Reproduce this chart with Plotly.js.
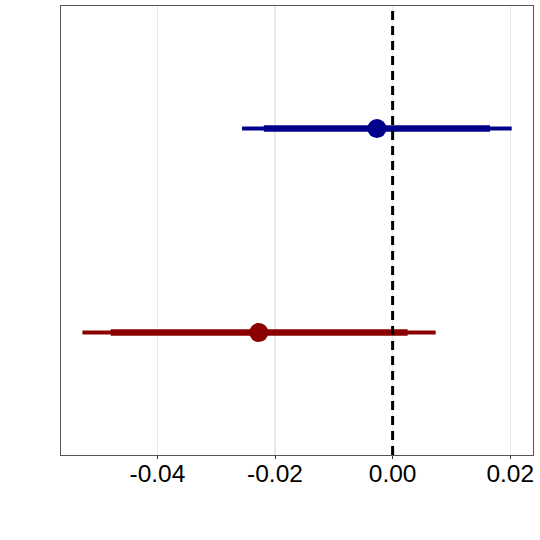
<!DOCTYPE html>
<html>
<head>
<meta charset="utf-8">
<script src="https://cdn.plot.ly/plotly-3.0.1.min.js"></script>
<style>
  html, body { margin: 0; padding: 0; background: #fff; }
  #chart { width: 540px; height: 540px; }
</style>
</head>
<body>
<div id="chart"></div>
<script>
// two estimates with inner (thick) and outer (thin) intervals
const groups = ["B", "A"];
const yPos = [2, 1];
const colors = ["#00008B", "#8B0000"];
const estimate = [-0.00267, -0.02275];
const outerLo = [-0.0256, -0.05275];
const outerHi = [0.02025, 0.00732];
const innerLo = [-0.0219, -0.04794];
const innerHi = [0.01656, 0.00255];
const tickVals = [-0.04, -0.02, 0.00, 0.02];
const tickText = ["-0.04", "-0.02", "0.00", "0.02"];

const traces = [];
for (let i = 0; i < groups.length; i++) {
    traces.push({
        x: [outerLo[i], outerHi[i]], y: [yPos[i], yPos[i]],
        mode: 'lines', type: 'scatter',
        line: { color: colors[i], width: 4 },
        hoverinfo: 'skip', showlegend: false
    });
    traces.push({
        x: [innerLo[i], innerHi[i]], y: [yPos[i], yPos[i]],
        mode: 'lines', type: 'scatter',
        line: { color: colors[i], width: 6.5 },
        hoverinfo: 'skip', showlegend: false
    });
    traces.push({
        x: [estimate[i]], y: [yPos[i]], name: groups[i],
        mode: 'markers', type: 'scatter',
        marker: { color: colors[i], size: 19 },
        showlegend: false
    });
}

const layout = {
    width: 540, height: 540,
    margin: { l: 61, r: 7, t: 6, b: 85 },
    paper_bgcolor: '#fff', plot_bgcolor: '#fff',
    font: { family: 'Liberation Sans, Arial, sans-serif', color: '#000' },
    xaxis: {
        range: [-0.05639, 0.02387],
        tickvals: tickVals, ticktext: tickText,
        tickfont: { size: 24.5, color: '#000' },
        ticks: 'outside', ticklen: 3, tickcolor: '#333', tickwidth: 1,
        ticklabelstandoff: -6,
        showgrid: true, gridcolor: '#e8e8e8', gridwidth: 1.3,
        zeroline: false,
        showline: true, linecolor: '#555', linewidth: 1, mirror: true
    },
    yaxis: {
        range: [0.4, 2.6],
        showticklabels: false, ticks: '',
        showgrid: false, zeroline: false,
        showline: true, linecolor: '#555', linewidth: 1, mirror: true
    },
    shapes: [{
        type: 'line', xref: 'x', yref: 'paper',
        x0: 0, x1: 0, y0: 0, y1: 1,
        line: { color: '#000', width: 3, dash: '9px,6px' }
    }]
};

Plotly.newPlot('chart', traces, layout, { displayModeBar: false, staticPlot: true });
</script>
</body>
</html>
